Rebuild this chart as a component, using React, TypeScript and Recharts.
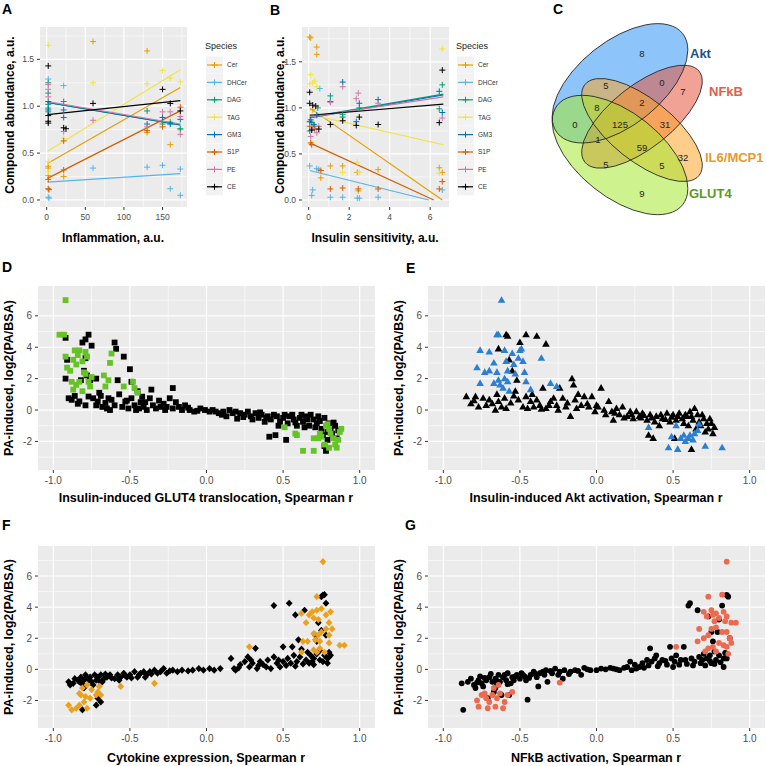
import React from 'react'
import { ComposedChart, Scatter, Line, XAxis, YAxis, CartesianGrid } from 'recharts'

const FONT = '"Liberation Sans", Arial, Helvetica, sans-serif'
const PANEL_BG = '#ebebeb'
const TICK_TEXT = '#4d4d4d'

// ---------- A / B : lipid species ----------
const SPECIES = ['Cer', 'DHCer', 'DAG', 'TAG', 'GM3', 'S1P', 'PE', 'CE']
const SPECIES_COLORS = ['#E69F00', '#56B4E9', '#009E73', '#F0E442', '#0072B2', '#D55E00', '#CC79A7', '#000000']

const INFLAM_CER = [[2, 0.36], [2, 0.34], [2, 0.26], [22, 0.25], [60, 1.69], [130, 1.59], [130, 0.72], [160, 0.59], [173, 0.75]]
const INFLAM_DHCER = [[2, 0.03], [3, 0.02], [2, 1.29], [22, 1.22], [60, 0.34], [130, 0.35], [150, 0.37], [160, 0.12], [173, 0.33], [173, 0.05]]
const INFLAM_DAG = [[2, 1.25], [2, 1.14], [2, 1.02], [2, 0.98], [2, 0.94], [22, 1.05], [130, 0.95], [150, 0.81], [160, 0.83], [173, 0.76]]
const INFLAM_TAG = [[2, 1.65], [2, 0.41], [2, 0.3], [22, 0.66], [60, 1.25], [130, 1.24], [150, 1.38], [160, 1.3], [173, 1.26]]
const INFLAM_GM3 = [[2, 1.05], [2, 0.96], [22, 0.96], [22, 0.88], [130, 0.81], [150, 0.88], [160, 0.81], [173, 0.86]]
const INFLAM_S1P = [[2, 0.22], [2, 0.12], [3, 0.11], [22, 0.63], [22, 0.32], [130, 0.74], [150, 0.78], [173, 0.99]]
const INFLAM_PE = [[2, 1.23], [2, 1.18], [2, 1.1], [22, 0.73], [60, 0.85], [130, 0.78], [150, 0.94], [160, 0.94], [173, 0.89], [173, 0.7]]
const INFLAM_CE = [[2, 1.43], [2, 0.9], [2, 0.84], [2, 0.82], [22, 0.77], [25, 0.76], [60, 1.03], [150, 1.18], [160, 1.03], [173, 0.95]]
const INFLAM_POINTS = [INFLAM_CER, INFLAM_DHCER, INFLAM_DAG, INFLAM_TAG, INFLAM_GM3, INFLAM_S1P, INFLAM_PE, INFLAM_CE]
// fitted lines, start / end
const INFLAM_FITS = [
  [[1, 0.39], [173, 1.2]], [[1, 0.19], [173, 0.28]], [[1, 1.04], [173, 0.8]], [[1, 0.52], [173, 1.39]],
  [[1, 1.04], [173, 0.8]], [[1, 0.23], [173, 0.95]], [[1, 1.05], [173, 0.81]], [[1, 0.91], [173, 1.06]],
]

const INSULIN_CER = [[0.05, 1.77], [0.1, 1.76], [0.4, 1.66], [0.4, 1.58], [0.2, 0.98], [0.6, 0.24], [1.07, 0.37], [1.68, 0.37], [2.4, 0.3], [2.45, 0.1], [3.43, 0.33], [6.45, 0.35], [6.6, 0.3]]
const INSULIN_DHCER = [[0.05, 0.37], [0.2, 0.11], [0.15, 0.05], [0.4, 0.34], [0.5, 0.33], [0.55, 1.21], [1.07, 0.03], [1.68, 0.03], [2.4, 0.02], [2.5, 0.02], [3.43, 0.03], [6.6, 0.11]]
const INSULIN_DAG = [[0.05, 0.75], [0.15, 0.84], [0.3, 0.8], [0.45, 1.0], [1.07, 1.13], [1.68, 0.93], [1.68, 0.9], [2.5, 1.0], [6.6, 1.25], [6.45, 0.99]]
const INSULIN_TAG = [[0.05, 1.26], [0.1, 1.36], [0.2, 1.27], [0.3, 1.29], [0.4, 1.23], [0.15, 0.62], [1.68, 0.3], [2.4, 0.41], [2.5, 0.3], [6.6, 1.64], [6.45, 0.29]]
const INSULIN_GM3 = [[0.05, 0.85], [0.1, 0.87], [0.25, 0.82], [0.4, 0.92], [1.07, 1.07], [1.68, 1.28], [2.35, 0.85], [2.5, 1.05], [3.43, 1.09], [6.45, 1.18], [6.6, 0.95]]
const INSULIN_S1P = [[0.05, 0.8], [0.1, 0.62], [0.15, 0.6], [0.3, 0.77], [0.6, 0.32], [1.07, 0.12], [1.68, 0.13], [2.45, 0.12], [3.43, 0.12], [6.6, 0.2], [6.45, 0.12]]
const INSULIN_PE = [[0.1, 0.69], [0.2, 0.78], [0.4, 0.73], [0.5, 0.8], [1.07, 1.06], [1.68, 1.23], [2.35, 1.1], [2.45, 1.16], [3.43, 1.05], [6.6, 0.89]]
const INSULIN_CE = [[0.05, 1.17], [0.05, 1.05], [0.2, 1.03], [0.35, 1.02], [0.15, 0.76], [0.5, 0.77], [1.07, 0.82], [1.68, 0.86], [2.35, 0.81], [2.5, 0.9], [3.43, 0.82], [6.6, 1.41], [6.45, 0.84]]
const INSULIN_POINTS = [INSULIN_CER, INSULIN_DHCER, INSULIN_DAG, INSULIN_TAG, INSULIN_GM3, INSULIN_S1P, INSULIN_PE, INSULIN_CE]
const INSULIN_FITS = [
  [[0.05, 1.0], [6.6, 0.0]], [[0.05, 0.32], [5.93, 0.0]], [[0.05, 0.9], [6.65, 1.15]], [[0.05, 0.93], [6.65, 0.6]],
  [[0.05, 0.89], [6.65, 1.14]], [[0.05, 0.62], [6.18, 0.0]], [[0.05, 0.9], [6.65, 1.12]], [[0.05, 0.92], [6.65, 1.04]],
]

// ---------- C : venn counts ----------
const VENN_SETS = ['Akt', 'NFkB', 'IL6/MCP1', 'GLUT4']
const VENN_SET_COLORS = ['#2f95f5', '#e8553e', '#fba52a', '#a6e830']
const VENN_LABEL_COLORS = ['#1f4f8f', '#e0604c', '#e89a2c', '#5a9c1c']
const VENN_COUNTS = [8, 5, 0, 7, 8, 2, 0, 125, 31, 1, 59, 32, 5, 5, 9]

// ---------- D-G : correlation vs PA response ----------
const GLUT4_OTHER = [
  [-0.92, 4.6], [-0.81, 4.3], [-0.77, 4.8], [-0.79, 4.5], [-0.75, 4.1], [-0.91, 3.2], [-0.92, 2.0], [-0.79, 3.3], [-0.8, 2.5], [-0.76, 1.9],
  [-0.72, 2.0], [-0.6, 4.3], [-0.59, 3.9], [-0.54, 3.4], [-0.58, 1.9], [-0.5, 2.6], [-0.49, 1.8], [-0.36, 1.3], [-0.22, 1.4], [-0.82, 1.9],
  [-0.78, 2.2], [-0.7, 1.1], [-0.64, 0.75], [-0.45, 1.2], [-0.42, 0.85],
  [-0.9, 0.75], [-0.88, 0.65], [-0.83, 0.55], [-0.79, 0.3], [-0.77, 0.86], [-0.74, 0.75], [-0.71, 0.54], [-0.68, 0.2], [-0.65, 0.1], [-0.62, 0.65],
  [-0.6, 0.3], [-0.57, 1.0], [-0.53, 0.54], [-0.51, 0.1], [-0.49, 0.75], [-0.47, 0.3], [-0.46, 0.0], [-0.43, 0.5], [-0.41, 0.2], [-0.39, 0.0],
  [-0.37, 0.75], [-0.35, 0.3], [-0.3, 0.2], [-0.28, 0.4], [-0.26, 0.2], [-0.24, 0.75], [-0.22, 0.1], [-0.18, 0.2], [-0.16, 0.0], [-0.14, 0.3],
  [-0.11, 0.0], [-0.08, -0.1], [-0.04, 0.1], [-0.01, 0.0], [0.02, -0.1], [0.04, 0.0], [0.08, -0.2], [0.11, -0.1], [0.13, -0.4], [0.15, 0.0],
  [0.17, -0.2], [0.2, -0.55], [0.22, -0.2], [0.25, -0.3], [0.27, -0.1], [0.29, -0.4], [0.32, -0.2], [0.34, -0.5], [0.36, -0.3], [0.38, -0.75],
  [0.4, -0.4], [0.41, -1.7], [0.45, -1.6], [0.42, -0.6], [0.46, -0.4], [0.48, -0.75], [0.5, -0.5], [0.52, -1.9], [0.53, -0.85], [0.54, -0.4],
  [0.57, -0.6], [0.59, -1.0], [0.61, -0.5], [0.63, -0.75], [0.65, -0.4], [0.67, -1.0], [0.7, -0.6], [0.72, -0.85], [0.73, -0.4], [0.75, -1.2],
  [0.76, -1.6], [0.77, -2.3], [0.78, -2.6], [0.79, -1.9], [0.8, -0.85], [0.81, -1.2], [0.82, -1.5], [0.84, -1.0], [0.85, -1.8],
  [-0.86, 0.9], [-0.84, 0.4], [-0.72, 0.3], [-0.69, 0.9], [-0.66, 0.45], [-0.63, 0.0], [-0.55, 0.2], [-0.52, 0.6], [-0.44, 0.1], [-0.4, 0.5],
  [-0.33, 0.1], [-0.31, 0.6], [-0.27, 0.0], [-0.2, 0.5], [-0.12, 0.15], [-0.06, -0.05], [0.06, -0.1], [0.1, -0.3], [0.19, -0.1], [0.24, -0.45],
  [0.3, -0.6], [0.35, -0.15], [0.39, -0.5], [0.44, -0.3], [0.47, -1.0], [0.51, -0.3], [0.56, -0.3], [0.58, -0.8], [0.62, -0.3], [0.64, -1.1],
  [0.66, -0.6], [0.68, -0.3], [0.71, -1.1], [0.74, -0.7], [0.77, -0.5], [0.79, -1.4], [0.83, -0.8], [0.86, -1.3],
]
const GLUT4_HIT = [
  [-0.92, 7.0], [-0.96, 4.8], [-0.93, 4.8], [-0.92, 3.4], [-0.91, 2.7], [-0.89, 2.5], [-0.88, 1.8], [-0.87, 3.2], [-0.86, 3.8], [-0.85, 2.9],
  [-0.84, 3.5], [-0.83, 3.8], [-0.81, 3.1], [-0.8, 2.4], [-0.79, 3.7], [-0.78, 3.4], [-0.87, 1.3], [-0.85, 1.6], [-0.83, 1.8], [-0.81, 1.2],
  [-0.79, 2.3], [-0.77, 1.8], [-0.76, 1.5], [-0.75, 2.1], [-0.67, 2.2], [-0.66, 1.5], [-0.64, 1.9], [-0.63, 3.0], [-0.62, 3.6], [-0.54, 1.5],
  [-0.48, 1.8], [-0.47, 1.4], [-0.45, 1.1],
  [0.51, -1.1], [0.59, -1.6], [0.58, -1.5], [0.63, -2.6], [0.7, -2.6], [0.7, -1.8], [0.73, -1.8], [0.75, -1.7], [0.77, -2.2], [0.79, -0.9],
  [0.8, -1.2], [0.81, -1.5], [0.83, -1.8], [0.84, -2.2], [0.85, -2.4], [0.86, -1.9], [0.87, -1.4], [0.88, -1.2], [0.8, -2.4], [0.78, -1.0], [0.74, -1.5],
]

const AKT_OTHER = [
  [-0.85, 0.86], [-0.82, 0.4], [-0.79, 0.86], [-0.74, 0.75], [-0.72, 0.3], [-0.7, 0.65], [-0.65, 1.0], [-0.64, 0.55], [-0.62, 0.2], [-0.6, 0.75],
  [-0.59, 0.1], [-0.64, 3.9], [-0.59, 4.8], [-0.58, 4.7], [-0.57, 3.2], [-0.55, 2.5], [-0.52, 1.9], [-0.5, 4.3], [-0.46, 4.8], [-0.39, 4.7],
  [-0.33, 4.2], [-0.53, 1.2], [-0.51, 0.65], [-0.48, 0.2], [-0.46, 0.86], [-0.43, 0.55], [-0.41, 0.2], [-0.39, 0.65], [-0.37, 0.3], [-0.35, 1.4],
  [-0.33, 0.1], [-0.3, 0.55], [-0.28, 0.75], [-0.26, 0.3], [-0.24, 1.4], [-0.22, 0.75], [-0.2, 0.2], [-0.17, -0.4], [-0.16, 2.0], [-0.15, 1.6],
  [-0.14, 0.65], [-0.12, 1.0], [-0.1, 0.3], [-0.08, 0.86], [-0.05, 0.2], [-0.03, 0.86], [-0.01, -0.1], [0.01, 0.2], [0.03, 1.4], [0.05, 0.0],
  [0.08, 0.55], [0.1, -0.1], [0.11, -0.65], [0.13, 0.1], [0.15, -0.3], [0.17, 0.2], [0.2, -0.4], [0.22, -0.1], [0.24, -0.55], [0.26, -0.1],
  [0.28, -0.4], [0.3, -0.2], [0.33, -0.65], [0.34, -1.6], [0.35, -0.3], [0.37, -1.8], [0.38, -0.75], [0.39, -0.4], [0.41, -1.0], [0.43, -0.55],
  [0.46, -0.2], [0.48, -0.75], [0.5, -0.3], [0.51, -1.8], [0.52, -0.65], [0.54, -0.2], [0.57, -0.85], [0.59, -0.4], [0.6, -1.0], [0.61, -0.1],
  [0.63, -0.65], [0.64, 0.1], [0.65, -1.2], [0.66, -0.3], [0.67, -0.75], [0.68, -1.0], [0.7, -0.55], [0.71, -1.4], [0.72, -0.85], [0.73, -1.2],
  [0.74, -0.55], [0.75, -0.85], [0.76, -1.5], [0.77, -1.1], [0.62, -2.5],
  [-0.8, 0.6], [-0.77, 0.2], [-0.68, 0.4], [-0.66, 0.0], [-0.56, 0.45], [-0.54, 0.9], [-0.45, 0.1], [-0.42, 1.0], [-0.36, 0.05], [-0.31, 0.3],
  [-0.25, 0.0], [-0.19, 0.45], [-0.13, 0.1], [-0.06, 0.4], [0.0, 0.3], [0.06, -0.3], [0.12, -0.2], [0.18, -0.5], [0.23, -0.3], [0.29, -0.5],
  [0.31, -0.35], [0.36, -0.5], [0.42, -0.3], [0.45, -0.6], [0.49, -0.45], [0.53, -0.4], [0.56, -0.55], [0.58, -0.3], [0.62, -0.4], [0.69, -0.3],
]
const AKT_HIT = [
  [-0.62, 7.0], [-0.65, 4.8], [-0.64, 4.8], [-0.76, 3.8], [-0.78, 2.7], [-0.76, 1.7], [-0.73, 2.4], [-0.7, 2.5], [-0.7, 3.7], [-0.67, 3.0],
  [-0.65, 2.4], [-0.64, 1.9], [-0.63, 1.6], [-0.61, 1.4], [-0.6, 2.0], [-0.6, 3.8], [-0.59, 3.1], [-0.58, 2.5], [-0.57, 1.2], [-0.55, 3.6],
  [-0.54, 2.9], [-0.53, 2.3], [-0.51, 3.3], [-0.5, 3.8], [-0.49, 3.9], [-0.48, 3.1], [-0.47, 2.4], [-0.46, 1.8], [-0.43, 1.3], [-0.36, 3.3],
  [-0.3, 1.7], [-0.26, 1.5], [-0.67, 1.7], [-0.58, 1.8],
  [0.34, -1.1], [0.47, -2.4], [0.49, -1.7], [0.52, -1.0], [0.53, -2.5], [0.55, -1.8], [0.57, -1.6], [0.58, -2.0], [0.6, -1.8], [0.61, -1.6],
  [0.63, -1.9], [0.64, -1.5], [0.66, -1.3], [0.67, -0.9], [0.71, -2.3], [0.82, -2.4],
]

const CYTO_OTHER = [
  [-0.9, -0.8], [-0.89, -1.0], [-0.87, -0.9], [-0.86, -0.6], [-0.83, -0.8], [-0.82, -0.5], [-0.8, -0.7], [-0.79, -0.35], [-0.78, -0.55], [-0.76, -0.5],
  [-0.75, -0.8], [-0.73, -0.35], [-0.72, -0.7], [-0.71, -0.5], [-0.69, -0.35], [-0.68, -0.8], [-0.67, -0.6], [-0.65, -0.5], [-0.63, -0.35], [-0.6, -0.6],
  [-0.58, -0.35], [-0.56, -0.5], [-0.54, -0.25], [-0.52, -0.5], [-0.5, -0.35], [-0.47, -0.15], [-0.45, -0.5], [-0.43, -0.25], [-0.41, -0.15], [-0.39, -0.35],
  [-0.37, -0.15], [-0.34, -0.05], [-0.32, -0.25], [-0.3, -0.15], [-0.28, 0.05], [-0.26, -0.25], [-0.22, -0.05], [-0.19, -0.15], [-0.16, -0.05], [-0.09, -0.05],
  [-0.05, 0.05], [-0.02, -0.05], [0.02, 0.05], [0.05, -0.05], [0.09, 0.05], [0.18, 0.05], [0.19, -0.05], [0.16, 0.7], [0.22, 0.3], [0.25, 0.5],
  [0.27, 0.8], [0.28, 0.15], [0.3, 0.4], [0.32, 1.35], [0.33, 0.05], [0.35, 0.5], [0.37, 0.3], [0.4, 0.6], [0.42, 0.05], [0.44, 0.8],
  [0.44, 4.1], [0.46, 0.4], [0.48, 0.15], [0.5, 0.5], [0.5, 1.45], [0.53, 0.7], [0.54, 4.25], [0.55, 0.4], [0.56, 1.45], [0.57, 0.9],
  [0.58, 3.5], [0.59, 0.5], [0.6, 1.9], [0.61, 0.8], [0.64, 3.8], [0.65, 0.6], [0.66, 1.1], [0.68, 0.9], [0.69, 0.5], [0.7, 0.7],
  [0.72, 1.0], [0.73, 3.0], [0.74, 0.6], [0.75, 4.67], [0.76, 4.78], [0.77, 4.8], [0.75, 2.5], [0.77, 0.9], [0.78, 4.25], [0.78, 2.2],
  [0.79, 0.7], [0.8, 1.1], [0.81, 0.9], [0.72, 1.8], [0.71, 2.2], [-0.71, -1.85], [-0.72, -2.3], [-0.81, -2.6], [-0.69, -2.1], [-0.8, -1.2],
  [-0.84, -0.7], [-0.81, -0.95], [-0.77, -0.65], [-0.74, -1.0], [-0.7, -0.75], [-0.66, -0.3], [-0.62, -0.55], [-0.57, -0.7], [-0.53, -0.4], [-0.49, -0.55],
  [-0.44, -0.35], [-0.4, -0.5], [-0.36, -0.3], [-0.24, -0.1], [-0.12, -0.1], [0.21, 0.1], [0.29, 0.6], [0.34, 0.25], [0.39, 0.15], [0.47, 0.6],
  [0.52, 0.25], [0.58, 0.2], [0.62, 1.3], [0.63, 0.35], [0.67, 0.4], [0.7, 0.3], [0.74, 1.2], [0.79, 0.4], [0.76, 0.5], [0.8, 0.8],
]
const CYTO_HIT = [
  [0.76, 6.92], [0.72, 4.67], [0.62, 3.6], [0.65, 3.0], [0.67, 3.5], [0.69, 3.7], [0.7, 3.3], [0.72, 3.8], [0.73, 3.2], [0.75, 3.9],
  [0.78, 3.5], [0.8, 3.0], [0.81, 3.7], [0.82, 2.6], [0.8, 2.2], [0.78, 2.6], [0.75, 2.4], [0.73, 2.2], [0.7, 2.3], [0.66, 1.8],
  [0.63, 1.8], [0.62, 1.1], [0.71, 1.9], [0.74, 1.35], [0.77, 1.1], [0.8, 1.7], [0.87, 1.55], [0.9, 1.55], [0.74, 1.8], [0.7, 1.25],
  [0.72, 1.1], [0.28, 1.45], [-0.34, -0.9], [-0.56, -1.1], [-0.69, -1.65], [-0.71, -1.45], [-0.75, -1.3], [-0.78, -1.0], [-0.79, -1.75], [-0.8, -2.1],
  [-0.82, -1.65], [-0.83, -2.3], [-0.85, -2.5], [-0.88, -2.6], [-0.9, -2.3], [-0.83, -1.55], [-0.81, -1.2], [-0.78, -2.5], [-0.76, -1.85], [-0.72, -1.65],
  [-0.7, -1.1],
]

const NFKB_OTHER = [
  [-0.87, -2.6], [-0.84, -0.8], [-0.8, -1.0], [-0.79, -1.2], [-0.77, -0.7], [-0.75, -0.9], [-0.74, -1.1], [-0.72, -0.7], [-0.71, -1.85], [-0.7, -0.5],
  [-0.68, -0.8], [-0.67, -1.45], [-0.66, -0.6], [-0.65, -1.0], [-0.64, -0.35], [-0.63, -0.8], [-0.62, -1.65], [-0.61, -0.5], [-0.59, -0.7], [-0.58, -0.25],
  [-0.57, -1.65], [-0.55, -0.5], [-0.54, -0.7], [-0.52, -0.35], [-0.5, -0.6], [-0.48, -0.35], [-0.46, -0.7], [-0.45, -1.95], [-0.43, -0.35], [-0.41, -0.15],
  [-0.39, -0.5], [-0.38, -1.1], [-0.37, -0.25], [-0.35, -0.15], [-0.33, -0.05], [-0.32, -0.8], [-0.29, -0.25], [-0.27, 0.05], [-0.25, -0.35], [-0.22, -0.6],
  [-0.21, -0.05], [-0.17, -0.15], [-0.14, -0.05], [-0.1, -0.35], [-0.08, 0.1], [-0.04, -0.05], [0.0, -0.05], [0.03, 0.05], [0.09, 0.1], [0.11, 0.05],
  [0.15, -0.05], [0.2, 0.15], [0.22, 0.5], [0.23, -0.05], [0.26, 0.05], [0.28, 0.15], [0.3, 0.4], [0.33, 0.6], [0.35, 1.35], [0.36, 0.5],
  [0.38, 0.7], [0.39, 0.9], [0.41, 0.4], [0.43, 0.6], [0.46, 0.3], [0.48, 1.45], [0.49, 0.7], [0.51, 0.5], [0.52, 0.9], [0.54, 0.3],
  [0.57, 1.45], [0.58, 0.6], [0.6, 4.1], [0.61, 4.25], [0.62, 0.7], [0.64, 0.5], [0.66, 3.8], [0.67, 0.8], [0.68, 0.4], [0.7, 1.0],
  [0.72, 0.7], [0.73, 3.4], [0.74, 0.9], [0.75, 0.4], [0.76, 1.8], [0.77, 1.15], [0.78, 0.6], [0.79, 2.4], [0.8, 0.9], [0.82, 4.1],
  [0.83, 0.7], [0.85, 4.78], [0.86, 4.67], [0.87, 2.0], [0.85, 0.7], [0.83, 0.15], [0.75, 2.4], [0.8, 3.2],
  [-0.82, -0.6], [-0.78, -0.85], [-0.73, -0.55], [-0.69, -0.3], [-0.65, -0.75], [-0.6, -0.35], [-0.56, -0.9], [-0.53, -0.45], [-0.49, -0.25], [-0.44, -0.55],
  [-0.4, -0.3], [-0.34, -0.35], [-0.3, -0.1], [-0.24, -0.15], [-0.18, -0.3], [-0.12, -0.1], [-0.06, 0.0], [0.06, 0.0], [0.13, 0.0], [0.18, 0.1],
  [0.25, 0.3], [0.31, 0.1], [0.34, 0.25], [0.4, 0.2], [0.45, 0.55], [0.5, 0.15], [0.55, 0.6], [0.59, 0.35], [0.63, 0.25], [0.69, 0.6],
  [0.71, 0.25], [0.74, 0.55], [0.77, 0.35], [0.81, 0.45], [0.84, 1.05], [-0.88, -0.9], [-0.76, -0.45], [-0.66, -1.2], [-0.58, -0.95], [-0.47, -0.45],
]
const NFKB_HIT = [
  [0.85, 6.92], [0.82, 4.8], [0.73, 4.67], [0.7, 3.7], [0.72, 3.4], [0.75, 3.8], [0.76, 3.5], [0.77, 3.1], [0.78, 3.6], [0.8, 3.3],
  [0.83, 3.7], [0.84, 3.1], [0.85, 3.4], [0.88, 3.0], [0.91, 3.0], [0.67, 2.6], [0.73, 2.2], [0.75, 2.6], [0.78, 2.7], [0.82, 2.4],
  [0.85, 2.4], [0.87, 2.0], [0.66, 1.8], [0.7, 2.0], [0.73, 1.35], [0.76, 1.45], [0.78, 1.15], [0.8, 1.7], [0.83, 1.55], [0.85, 1.45],
  [0.88, 1.7], [0.86, 1.0], [0.71, 1.15], [0.52, 1.45], [-0.24, -0.85], [-0.78, -2.0], [-0.77, -2.4], [-0.75, -1.65], [-0.73, -1.55], [-0.71, -2.5],
  [-0.7, -2.1], [-0.68, -1.65], [-0.67, -1.2], [-0.65, -1.85], [-0.64, -1.0], [-0.63, -1.55], [-0.61, -2.5], [-0.6, -2.1], [-0.58, -1.65], [-0.55, -1.45],
  [-0.66, -2.4], [-0.72, -1.85],
]

const R_TICKS = [-1, -0.5, 0, 0.5, 1]
const R_MINOR = [-0.75, -0.25, 0.25, 0.75]
const PA_TICKS = [-2, 0, 2, 4, 6]
const PA_MINOR = [-3, -1, 1, 3, 5, 7]
const ABUND_TICKS = [0, 0.5, 1, 1.5]
const ABUND_MINOR = [0.25, 0.75, 1.25, 1.75]

const toXY = (arr: number[][]) => arr.map(([x, y]) => ({ x, y }))

const plus = (c: string) => (p: any) => (
  <path d={`M${p.cx - 3},${p.cy}H${p.cx + 3}M${p.cx},${p.cy - 3}V${p.cy + 3}`} stroke={c} strokeWidth={1} fill="none" />
)
const square = (c: string) => (p: any) => <rect x={p.cx - 2.9} y={p.cy - 2.9} width={5.8} height={5.8} fill={c} />
const triangle = (c: string) => (p: any) => (
  <path d={`M${p.cx},${p.cy - 4}L${p.cx + 3.8},${p.cy + 2.6}L${p.cx - 3.8},${p.cy + 2.6}Z`} fill={c} />
)
const diamond = (c: string) => (p: any) => (
  <path d={`M${p.cx},${p.cy - 3.6}L${p.cx + 3.4},${p.cy}L${p.cx},${p.cy + 3.6}L${p.cx - 3.4},${p.cy}Z`} fill={c} />
)
const dot = (c: string) => (p: any) => <circle cx={p.cx} cy={p.cy} r={2.9} fill={c} />

const tickStyle = (size: number) => ({ fontSize: size, fill: TICK_TEXT, fontFamily: FONT })

function LipidPanel({ left, points, fits, xDomain, yDomain, xTicks, xMinor }: any) {
  return (
    <div style={{ position: 'absolute', left, top: 0 }}>
      <ComposedChart width={200} height={230} margin={{ top: 27, right: 13, bottom: 0, left: 0 }}>
        <CartesianGrid fill={PANEL_BG} stroke="#fff" strokeWidth={0.6} horizontalValues={ABUND_MINOR} verticalValues={xMinor} />
        <CartesianGrid fill="none" stroke="#fff" strokeWidth={1.2} horizontalValues={ABUND_TICKS} verticalValues={xTicks} />
        <XAxis type="number" dataKey="x" domain={xDomain} ticks={xTicks} interval={0} allowDataOverflow axisLine={false}
          tickLine={{ stroke: '#333' }} tickSize={3} tickMargin={4} height={23} tick={tickStyle(8.5)} />
        <YAxis type="number" dataKey="y" domain={yDomain} ticks={ABUND_TICKS} interval={0} allowDataOverflow axisLine={false}
          tickLine={{ stroke: '#333' }} tickSize={3} tickMargin={3} width={40} tick={tickStyle(8.5)}
          tickFormatter={(v: number) => v.toFixed(1)} />
        {fits.map((f: number[][], i: number) => (
          <Line key={'fit' + i} data={toXY(f)} dataKey="y" stroke={SPECIES_COLORS[i]} strokeWidth={1.2} dot={false} isAnimationActive={false} />
        ))}
        {points.map((p: number[][], i: number) => (
          <Scatter key={'pt' + i} data={toXY(p)} shape={plus(SPECIES_COLORS[i])} isAnimationActive={false} />
        ))}
      </ComposedChart>
    </div>
  )
}

function CorrPanel({ left, top, height, yDomain, other, hit, color, marker }: any) {
  const width = left > 0 ? 376 : 385
  return (
    <div style={{ position: 'absolute', left, top }}>
      <ComposedChart width={width} height={height} margin={{ top: 16, right: left > 0 ? 1 : 10, bottom: 0, left: 0 }}>
        <CartesianGrid fill={PANEL_BG} stroke="#fff" strokeWidth={0.6} horizontalValues={PA_MINOR} verticalValues={R_MINOR} />
        <CartesianGrid fill="none" stroke="#fff" strokeWidth={1.2} horizontalValues={PA_TICKS} verticalValues={R_TICKS} />
        <XAxis type="number" dataKey="x" domain={[-1.1, 1.1]} ticks={R_TICKS} interval={0} allowDataOverflow axisLine={false}
          tickLine={{ stroke: '#333' }} tickSize={3} tickMargin={4} height={20} tick={tickStyle(10)}
          tickFormatter={(v: number) => v.toFixed(1)} />
        <YAxis type="number" dataKey="y" domain={yDomain} ticks={PA_TICKS} interval={0} allowDataOverflow axisLine={false}
          tickLine={{ stroke: '#333' }} tickSize={3} tickMargin={3} width={38} tick={tickStyle(10)} />
        <Scatter data={toXY(other)} shape={marker('#000')} isAnimationActive={false} />
        <Scatter data={toXY(hit)} shape={marker(color)} isAnimationActive={false} />
      </ComposedChart>
    </div>
  )
}

function Legend({ x }: { x: number }) {
  return (
    <g>
      <text x={x} y={49} fontSize={9} fill="#222">Species</text>
      {SPECIES.map((s, i) => {
        const cy = 65 + i * 17.4
        return (
          <g key={s}>
            <rect x={x + 1} y={cy - 8.5} width={17} height={17} fill="#f2f2f2" />
            <line x1={x + 2} x2={x + 17} y1={cy} y2={cy} stroke={SPECIES_COLORS[i]} strokeWidth={1.2} />
            <path d={`M${x + 6.5},${cy}H${x + 12.5}M${x + 9.5},${cy - 3}V${cy + 3}`} stroke={SPECIES_COLORS[i]} strokeWidth={1} />
            <text x={x + 22} y={cy + 2.4} fontSize={6.5} fill="#333">{s}</text>
          </g>
        )
      })}
    </g>
  )
}

// ellipse geometry for the 4-set venn
const VENN_SHAPES = [
  { cx: 620, cy: 83.3, rx: 80, ry: 42, rot: -38.5 },
  { cx: 642, cy: 116.7, rx: 73, ry: 31, rot: -38.5 },
  { cx: 642, cy: 130, rx: 73, ry: 31, rot: 38.5 },
  { cx: 620, cy: 155, rx: 80, ry: 42, rot: 38.5 },
]
const VENN_COUNT_POS = [
  [642, 53], [606, 85], [662, 82], [683, 91], [597, 107], [642, 102], [575, 124], [620, 124],
  [665, 124], [598, 139], [642, 147], [683, 157], [606, 164], [662, 165], [642, 193],
]
const VENN_LABEL_POS = [[690, 53], [709, 91], [705, 157], [689, 193]]

function Venn() {
  return (
    <g>
      {VENN_SHAPES.map((e, i) => (
        <ellipse key={'f' + i} cx={e.cx} cy={e.cy} rx={e.rx} ry={e.ry} transform={`rotate(${e.rot} ${e.cx} ${e.cy})`}
          fill={VENN_SET_COLORS[i]} fillOpacity={0.55} />
      ))}
      {VENN_SHAPES.map((e, i) => (
        <ellipse key={'s' + i} cx={e.cx} cy={e.cy} rx={e.rx} ry={e.ry} transform={`rotate(${e.rot} ${e.cx} ${e.cy})`}
          fill="none" stroke="#222" strokeWidth={0.8} />
      ))}
      {VENN_COUNTS.map((n, i) => (
        <text key={'n' + i} x={VENN_COUNT_POS[i][0]} y={VENN_COUNT_POS[i][1]} fontSize={9.5} textAnchor="middle"
          dominantBaseline="central" fill="#222">{n}</text>
      ))}
      {VENN_SETS.map((s, i) => (
        <text key={s} x={VENN_LABEL_POS[i][0]} y={VENN_LABEL_POS[i][1]} fontSize={13} fontWeight="bold"
          dominantBaseline="central" fill={VENN_LABEL_COLORS[i]}>{s}</text>
      ))}
    </g>
  )
}

const yTitle = (x: number, y: number, text: string, size: number) => (
  <text transform={`translate(${x},${y}) rotate(-90)`} textAnchor="middle" dominantBaseline="central"
    fontSize={size} fontWeight="bold" fill="#000">{text}</text>
)
const xTitle = (x: number, y: number, text: string, size: number) => (
  <text x={x} y={y} textAnchor="middle" fontSize={size} fontWeight="bold" fill="#000">{text}</text>
)
const letter = (x: number, y: number, t: string) => (
  <text x={x} y={y} fontSize={14} fontWeight="bold" fill="#000">{t}</text>
)

export default function App() {
  return (
    <div style={{ position: 'absolute', left: 0, top: 0, width: 766, height: 766, background: '#fff', fontFamily: FONT, overflow: 'hidden' }}>
      <LipidPanel left={0} points={INFLAM_POINTS} fits={INFLAM_FITS} xDomain={[-8.65, 181.65]} yDomain={[-0.075, 1.845]}
        xTicks={[0, 50, 100, 150]} xMinor={[25, 75, 125, 175]} />
      <LipidPanel left={262} points={INSULIN_POINTS} fits={INSULIN_FITS} xDomain={[-0.33, 6.93]} yDomain={[-0.076, 1.878]}
        xTicks={[0, 2, 4, 6]} xMinor={[1, 3, 5]} />

      <CorrPanel left={0} top={270} height={220} yDomain={[-3.82, 7.9]} other={GLUT4_OTHER} hit={GLUT4_HIT} color="#66c326" marker={square} />
      <CorrPanel left={390} top={270} height={220} yDomain={[-3.82, 7.9]} other={AKT_OTHER} hit={AKT_HIT} color="#2a7fd0" marker={triangle} />
      <CorrPanel left={0} top={530} height={218} yDomain={[-3.77, 7.93]} other={CYTO_OTHER} hit={CYTO_HIT} color="#eba11c" marker={diamond} />
      <CorrPanel left={390} top={530} height={218} yDomain={[-3.77, 7.93]} other={NFKB_OTHER} hit={NFKB_HIT} color="#ec6a4f" marker={dot} />

      <svg width={766} height={766} style={{ position: 'absolute', left: 0, top: 0, pointerEvents: 'none' }} fontFamily={FONT}>
        {letter(2, 14, 'A')}
        {letter(270, 15, 'B')}
        {letter(553, 14, 'C')}
        {letter(2, 272, 'D')}
        {letter(406, 273, 'E')}
        {letter(2, 530, 'F')}
        {letter(405, 530, 'G')}

        {yTitle(10, 115, 'Compound abundance, a.u.', 12)}
        {xTitle(113, 242, 'Inflammation, a.u.', 12)}
        {yTitle(280, 115, 'Compound abundance, a.u.', 12)}
        {xTitle(375, 242, 'Insulin sensitivity, a.u.', 12)}
        <Legend x={205} />
        <Legend x={456} />

        <Venn />

        {yTitle(8.5, 378, 'PA-induced, log2(PA/BSA)', 12.5)}
        {xTitle(206, 501.5, 'Insulin-induced GLUT4 translocation, Spearman r', 12.5)}
        {yTitle(399, 378, 'PA-induced, log2(PA/BSA)', 12.5)}
        {xTitle(596, 501.5, 'Insulin-induced Akt activation, Spearman r', 12.5)}
        {yTitle(8.5, 637, 'PA-induced, log2(PA/BSA)', 12.5)}
        {xTitle(206, 762, 'Cytokine expression, Spearman r', 12.5)}
        {yTitle(399, 637, 'PA-induced, log2(PA/BSA)', 12.5)}
        {xTitle(596, 762, 'NFkB activation, Spearman r', 12.5)}
      </svg>
    </div>
  )
}
